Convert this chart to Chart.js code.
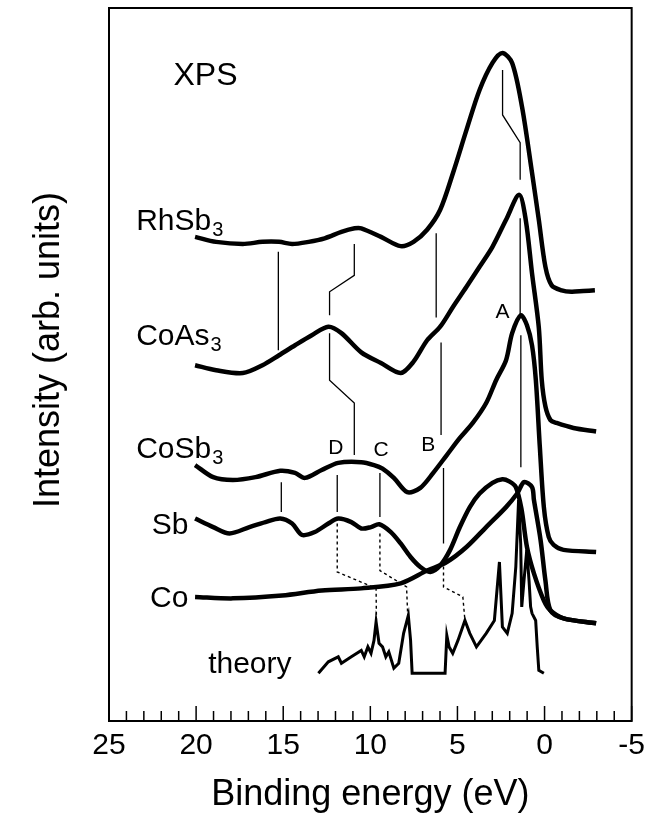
<!DOCTYPE html>
<html>
<head>
<meta charset="utf-8">
<title>XPS valence band spectra</title>
<script src="https://cdn.jsdelivr.net/npm/chart.js@4.4.1/dist/chart.umd.min.js"></script>
<style>
  html, body { margin: 0; padding: 0; background: #fff; }
  canvas { display: block; }
</style>
</head>
<body>
<canvas id="xpsChart" width="652" height="817"></canvas>
<script>
const FONT = '"Liberation Sans", Arial, Helvetica, sans-serif';

// binding energy (eV) / intensity (arb. units)
const rhsb3Energy = [20.06, 18.85, 17.32, 16.19, 15.24, 14.49, 13.54, 12.62, 11.66, 10.90, 10.52, 9.39, 8.26, 7.52, 6.74, 5.99, 5.25, 4.48, 3.73, 2.99, 2.42, 1.86, 1.29, 0.72, 0.33, -0.05, -0.41, -0.98, -1.54, -2.22, -2.89];
const rhsb3Intensity = [67.9, 67.2, 66.9, 67.2, 67.2, 66.9, 67.2, 67.7, 68.6, 69.1, 69.1, 67.9, 66.6, 67.2, 68.9, 71.7, 76.9, 82.9, 88.5, 92.3, 93.7, 92.3, 86.1, 76.9, 70.3, 63.7, 61.1, 60.4, 60.2, 60.3, 60.4];

const coas3Energy = [20.06, 18.85, 17.32, 16.19, 15.24, 14.32, 13.36, 12.41, 11.66, 10.52, 9.39, 8.26, 7.52, 6.74, 5.99, 5.25, 4.48, 3.73, 2.99, 2.21, 1.46, 1.08, 0.72, 0.33, 0.16, -0.05, -0.34, -0.69, -1.66, -2.96];
const coas3Intensity = [49.9, 49.2, 48.8, 49.9, 51.3, 52.7, 54.1, 55.3, 54.4, 51.7, 50.2, 48.8, 50.4, 53.4, 55.3, 58.1, 60.9, 63.7, 66.5, 70.3, 73.8, 70.3, 62.8, 55.2, 47.8, 44.1, 42.2, 41.8, 41.1, 40.6];

const cosb3Energy = [20.06, 19.02, 17.89, 16.59, 15.17, 14.32, 13.75, 12.79, 11.84, 10.52, 9.79, 9.30, 8.65, 7.88, 7.13, 6.39, 5.61, 4.86, 4.12, 3.35, 2.78, 2.21, 1.86, 1.36, 1.01, 0.72, 0.50, 0.27, 0.04, -0.24, -0.52, -1.09, -2.96];
const cosb3Intensity = [35.9, 34.2, 33.8, 34.2, 35.1, 34.8, 34.1, 35.2, 36.2, 36.3, 35.9, 35.4, 34.1, 32.1, 32.7, 34.8, 37.3, 39.7, 41.8, 44.6, 47.8, 50.6, 54.4, 56.9, 55.5, 52.7, 47.8, 38.4, 30.0, 25.8, 24.7, 24.0, 23.7];

const sbEnergy = [20.06, 19.02, 18.08, 16.94, 16.02, 15.17, 14.49, 13.92, 13.19, 12.41, 11.84, 11.09, 10.52, 9.96, 9.49, 8.82, 8.26, 7.69, 7.13, 6.56, 5.99, 5.42, 4.86, 4.29, 3.73, 2.99, 2.42, 2.03, 1.65, 1.33, 1.01, 0.61, 0.04, -0.34, -1.09, -2.96];
const sbIntensity = [28.4, 27.2, 26.3, 27.2, 27.9, 28.4, 27.7, 26.1, 26.5, 27.7, 28.4, 27.9, 27.0, 27.2, 27.6, 26.5, 24.9, 23.0, 21.6, 20.9, 21.8, 24.0, 27.2, 30.0, 31.9, 33.4, 33.9, 33.6, 32.8, 29.8, 24.4, 20.7, 16.9, 15.5, 14.4, 13.7];

const coEnergy = [20.06, 17.89, 15.06, 12.79, 10.52, 8.26, 6.74, 5.61, 4.48, 3.35, 2.21, 1.57, 1.18, 0.72, 0.61, 0.23, -0.05, -0.34, -1.09, -2.96];
const coIntensity = [17.4, 17.2, 17.6, 18.3, 18.6, 19.3, 21.1, 22.3, 24.4, 27.2, 30.0, 31.9, 33.5, 32.8, 31.0, 25.4, 19.7, 15.5, 14.4, 13.7];

const theoryEnergy = [12.98, 12.41, 11.84, 11.66, 11.09, 10.52, 10.35, 10.14, 9.96, 9.79, 9.67, 9.50, 9.30, 9.11, 8.94, 8.65, 8.37, 8.09, 7.82, 7.69, 7.60, 5.71, 5.61, 5.48, 5.27, 4.97, 4.57, 4.29, 3.91, 3.35, 2.88, 2.59, 2.42, 2.14, 1.86, 1.65, 1.49, 1.37, 1.31, 1.18, 1.02, 0.89, 0.80, 0.72, 0.51, 0.42, 0.33, 0.04];
const theoryIntensity = [6.7, 8.3, 9.0, 8.1, 9.0, 9.9, 9.0, 10.4, 9.5, 11.3, 13.9, 10.9, 10.4, 9.0, 9.7, 7.4, 8.1, 12.3, 14.8, 11.3, 6.7, 6.7, 12.0, 10.4, 9.5, 11.3, 14.1, 12.3, 10.4, 12.3, 14.1, 22.3, 13.2, 12.3, 15.1, 21.6, 31.0, 24.9, 16.0, 19.7, 24.0, 19.7, 16.0, 15.1, 14.1, 10.4, 7.1, 6.7];

// peak guide lines [energy, intensity]
const guide15Upper = [[15.28, 65.8], [15.28, 52.0]];
const guide15Lower = [[15.11, 33.5], [15.11, 29.3]];
const guideZigUpper = [[10.92, 66.9], [10.92, 62.5], [12.34, 60.2], [12.34, 56.9]];
const guideZigLower = [[12.34, 54.4], [12.34, 47.8], [10.92, 44.6], [10.92, 37.3]];
const guideD = [[11.90, 34.5], [11.90, 29.3]];
const guideC = [[9.45, 34.8], [9.45, 28.6]];
const guideB1 = [[6.22, 68.4], [6.22, 56.6]];
const guideB2 = [[5.94, 53.1], [5.94, 40.1]];
const guideB3 = [[5.80, 35.5], [5.80, 24.9]];
const guideA1 = [[2.41, 91.3], [2.41, 85.0], [1.40, 81.1], [1.40, 75.9]];
const guideA2 = [[1.40, 70.5], [1.40, 56.6]];
const guideA3 = [[1.36, 54.1], [1.36, 35.6]];
const dashD = [[11.90, 27.7], [11.90, 20.9], [9.67, 18.6], [9.65, 14.1]];
const dashC = [[9.45, 26.3], [9.45, 21.1], [7.92, 18.8], [7.86, 15.1]];
const dashB = [[5.80, 22.5], [5.80, 18.8], [4.69, 17.4], [4.57, 14.1]];

const xTicks = [25, 20, 15, 10, 5, 0, -5];

function toPoints(xs, ys) {
    return xs.map((x, i) => ({ x: x, y: ys[i] }));
}

const spectra = [
    { label: 'RhSb3', e: rhsb3Energy, i: rhsb3Intensity },
    { label: 'CoAs3', e: coas3Energy, i: coas3Intensity },
    { label: 'CoSb3', e: cosb3Energy, i: cosb3Intensity },
    { label: 'Sb', e: sbEnergy, i: sbIntensity },
    { label: 'Co', e: coEnergy, i: coIntensity }
];

const datasets = spectra.map(s => ({
    label: s.label,
    data: toPoints(s.e, s.i),
    borderColor: '#000',
    borderWidth: 4.5,
    borderJoinStyle: 'round',
    pointRadius: 0,
    tension: 0.3,
    fill: false
}));

datasets.push({
    label: 'theory',
    data: toPoints(theoryEnergy, theoryIntensity),
    borderColor: '#000',
    borderWidth: 3,
    pointRadius: 0,
    tension: 0,
    fill: false
});

[guide15Upper, guide15Lower, guideZigUpper, guideZigLower, guideD, guideC,
 guideB1, guideB2, guideB3, guideA1, guideA2, guideA3].forEach(g => {
    datasets.push({
        data: g.map(p => ({ x: p[0], y: p[1] })),
        borderColor: '#000',
        borderWidth: 1.3,
        pointRadius: 0,
        tension: 0
    });
});

[dashD, dashC, dashB].forEach(g => {
    datasets.push({
        data: g.map(p => ({ x: p[0], y: p[1] })),
        borderColor: '#000',
        borderWidth: 1.4,
        borderDash: [3, 3],
        pointRadius: 0,
        tension: 0
    });
});

// text placed inside the frame (energy, intensity)
const annotations = [
    { text: 'XPS', e: 21.3, i: 89.2, size: 32, align: 'left' },
    { text: 'RhSb', sub: '3', e: 23.44, i: 68.85, size: 30, align: 'left' },
    { text: 'CoAs', sub: '3', e: 23.44, i: 52.7, size: 30, align: 'left' },
    { text: 'CoSb', sub: '3', e: 23.44, i: 36.9, size: 30, align: 'left' },
    { text: 'Sb', e: 20.44, i: 26.2, size: 30, align: 'right' },
    { text: 'Co', e: 20.44, i: 15.95, size: 30, align: 'right' },
    { text: 'theory', e: 19.31, i: 6.7, size: 30, align: 'left' },
    { text: 'A', e: 2.42, i: 57.3, size: 21, align: 'center', middle: true },
    { text: 'B', e: 6.67, i: 38.7, size: 21, align: 'center', middle: true },
    { text: 'C', e: 9.39, i: 38.0, size: 21, align: 'center', middle: true },
    { text: 'D', e: 11.98, i: 38.2, size: 21, align: 'center', middle: true }
];

const labelPlugin = {
    id: 'curveLabels',
    afterDatasetsDraw(chart) {
        const { ctx, scales: { x, y } } = chart;
        ctx.save();
        ctx.fillStyle = '#000';
        annotations.forEach(a => {
            const px = x.getPixelForValue(a.e);
            const py = y.getPixelForValue(a.i);
            ctx.font = a.size + 'px ' + FONT;
            ctx.textAlign = a.align;
            ctx.textBaseline = a.middle ? 'middle' : 'alphabetic';
            ctx.fillText(a.text, px, py);
            if (a.sub) {
                const w = ctx.measureText(a.text).width;
                ctx.font = '20px ' + FONT;
                ctx.textAlign = 'left';
                ctx.fillText(a.sub, px + w + 1, py + 6);
            }
        });
        // y axis title, sits a little above the middle of the frame
        ctx.translate(49, 350);
        ctx.rotate(-Math.PI / 2);
        ctx.font = '36px ' + FONT;
        ctx.textAlign = 'center';
        ctx.textBaseline = 'middle';
        ctx.fillText('Intensity (arb. units)', 0, 0);
        ctx.restore();
    }
};

// box round the plot and inward tick marks
const framePlugin = {
    id: 'frame',
    afterDraw(chart) {
        const { ctx, chartArea: a, scales: { x } } = chart;
        ctx.save();
        ctx.strokeStyle = '#000';
        ctx.lineWidth = 2;
        ctx.strokeRect(a.left, a.top, a.right - a.left, a.bottom - a.top);
        ctx.lineWidth = 1.5;
        for (let v = x.min; v <= x.max; v++) {
            const px = x.getPixelForValue(v);
            const len = v % 5 === 0 ? 15 : 10;
            ctx.beginPath();
            ctx.moveTo(px, a.bottom);
            ctx.lineTo(px, a.bottom - len);
            ctx.stroke();
        }
        ctx.restore();
    }
};

const ctx = document.getElementById('xpsChart').getContext('2d');
new Chart(ctx, {
    type: 'line',
    data: { datasets: datasets },
    options: {
        responsive: false,
        animation: false,
        devicePixelRatio: 1,
        events: [],
        layout: { padding: { top: 8, right: 13, left: 0, bottom: 0 } },
        plugins: {
            legend: { display: false },
            tooltip: { enabled: false }
        },
        scales: {
            x: {
                type: 'linear',
                reverse: true,
                min: -5,
                max: 25,
                afterBuildTicks: scale => { scale.ticks = xTicks.map(v => ({ value: v })); },
                afterFit: scale => { scale.height = 96; },
                grid: { display: false, drawTicks: false },
                border: { display: false },
                ticks: {
                    color: '#000',
                    padding: 7,
                    autoSkip: false,
                    maxRotation: 0,
                    font: { family: FONT, size: 30 }
                },
                title: {
                    display: true,
                    text: 'Binding energy (eV)',
                    color: '#000',
                    padding: { top: 0, bottom: 0 },
                    font: { family: FONT, size: 36 }
                }
            },
            y: {
                min: 0,
                max: 100,
                afterFit: scale => { scale.width = 109; },
                grid: { display: false, drawTicks: false },
                border: { display: false },
                ticks: { display: false },
                title: { display: false }
            }
        }
    },
    plugins: [labelPlugin, framePlugin]
});
</script>
</body>
</html>
